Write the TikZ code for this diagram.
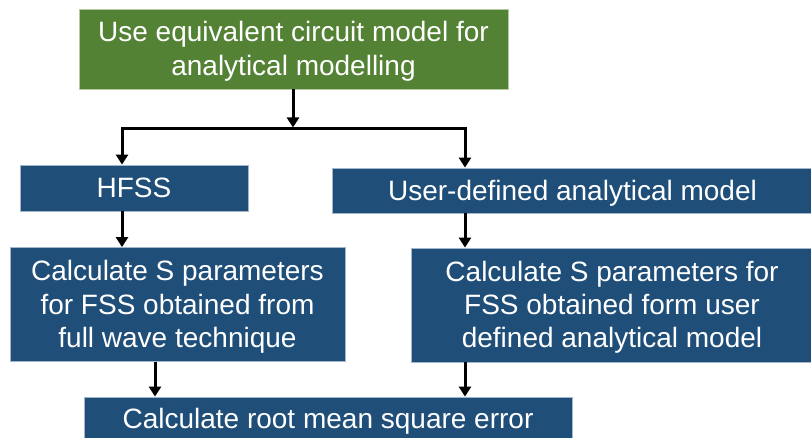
\documentclass[tikz,border=0pt]{standalone}
\usepackage{fontspec}
\setmainfont{Liberation Sans}
\usetikzlibrary{arrows.meta}
\definecolor{boxblue}{HTML}{1F4E79}
\definecolor{boxgreen}{HTML}{548235}
\definecolor{blueedge}{HTML}{A3B6CC}
\definecolor{greenedge}{HTML}{B5C9A3}
% taller first line so multi-line text sits a little lower in its box
\newcommand{\firstline}{\rule{0pt}{25pt}}
\tikzset{
  flowbox/.style={rectangle, fill=boxblue, draw=blueedge, line width=0.8pt,
    text=white, inner sep=0pt, align=center,
    font=\fontsize{28}{33.3}\selectfont},
  greenbox/.style={flowbox, fill=boxgreen, draw=greenedge},
  oneline/.style={text height=20pt, text depth=0pt},
  link/.style={line width=3pt, draw=black},
  arr/.style={link, -{Triangle[length=10pt, width=12pt]}}
}
\begin{document}
\begin{tikzpicture}[x=1pt, y=-1pt]
  \useasboundingbox (0,0) rectangle (811,438);

  % boxes (centres in picture units, y grows downwards)
  \node[greenbox, minimum width=429pt, minimum height=80pt] (top) at (293.5,49)
    {\firstline Use equivalent circuit model for\\analytical modelling};
  \node[flowbox, oneline, minimum width=228pt, minimum height=46pt] (hfss) at (134,188) {HFSS};
  \node[flowbox, oneline, minimum width=481pt, minimum height=45pt] (user) at (572.5,190.5)
    {User-defined analytical model};
  \node[flowbox, minimum width=335pt, minimum height=114pt] (calcL) at (177.5,304.5)
    {\firstline Calculate S parameters\\for FSS obtained from\\full wave technique};
  \node[flowbox, minimum width=402pt, minimum height=114pt] (calcR) at (612,305)
    {\firstline Calculate S parameters for\\FSS obtained form user\\defined analytical model};
  \node[flowbox, oneline, minimum width=488pt, minimum height=42pt] (rms) at (328,418)
    {Calculate root mean square error};

  % split below the top box
  \coordinate (jM) at (293,129);
  \coordinate (jL) at (122,129);
  \coordinate (jR) at (465,129);
  \draw[arr] (top.south -| jM) -- ([yshift=1.5pt]jM);
  \draw[arr] (jR) -- (jL) -- (jL |- hfss.north);
  \draw[arr] (jL) -- (jR) -- (jR |- user.north);

  % second level to third level
  \draw[arr] (hfss.south -| jL) -- (calcL.north -| jL);
  \draw[arr] (user.south -| jR) -- (calcR.north -| jR);

  % into the error box
  \coordinate (eL) at (155,0);
  \draw[arr] (calcL.south -| eL) -- (rms.north -| eL);
  \draw[arr] (calcR.south -| jR) -- (rms.north -| jR);
\end{tikzpicture}
\end{document}
